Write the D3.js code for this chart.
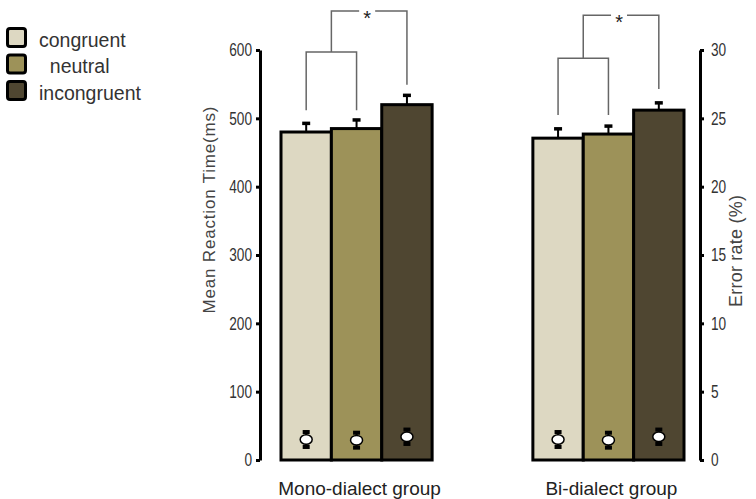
<!DOCTYPE html>
<html><head><meta charset="utf-8">
<script src="https://cdn.jsdelivr.net/npm/d3@7"></script>
<style>
body{margin:0;background:#fff;}
text{font-family:"Liberation Sans",Arial,sans-serif;}
</style></head>
<body><svg id="chart" width="756" height="499"></svg>
<script>
// ---- data ----
const groups = ["Mono-dialect group", "Bi-dialect group"];
const conditions = ["congruent", "neutral", "incongruent"];
const legendLabels = ["congruent", "  neutral", "incongruent"];
const colors = ["#ddd8c2", "#9d9259", "#4f4631"];
const rtMono = [480, 485, 520];
const rtMonoErr = [13, 13, 14];
const rtBi = [471, 477, 512];
const rtBiErr = [14, 12, 11];
const errRateMono = [1.5, 1.45, 1.7];
const errRateMonoErr = [0.62, 0.62, 0.6];
const errRateBi = [1.5, 1.45, 1.7];
const errRateBiErr = [0.62, 0.62, 0.6];
const rtTicks = [0, 100, 200, 300, 400, 500, 600];
const errTicks = [0, 5, 10, 15, 20, 25, 30];
// significance brackets (in ms units)
const bracketLow = [597, 588];
const bracketHigh = [657, 651];
const bracketPairBottom = [512, 505];
const bracketIncBottom = [549, 543];

const svg = d3.select("#chart");
const y = d3.scaleLinear().domain([0, 600]).range([460, 50]);
const y2 = d3.scaleLinear().domain([0, 30]).range([460, 50]);
const xg = d3.scaleBand().domain(groups).range([281, 684]).paddingInner(0.4).paddingOuter(0);
const xc = d3.scaleBand().domain(conditions).range([0, xg.bandwidth()]);

const rt = [rtMono, rtBi], rtE = [rtMonoErr, rtBiErr];
const er = [errRateMono, errRateBi], erE = [errRateMonoErr, errRateBiErr];

const data = [];
groups.forEach((g, gi) => conditions.forEach((c, ci) => data.push({
  g, c, ci, v: rt[gi][ci], e: rtE[gi][ci], ev: er[gi][ci], ee: erE[gi][ci]
})));
const cx = d => xg(d.g) + xc(d.c) + xc.bandwidth() / 2;

// bars
svg.append("g").selectAll("rect").data(data).join("rect")
  .attr("x", d => xg(d.g) + xc(d.c))
  .attr("y", d => y(d.v))
  .attr("width", xc.bandwidth())
  .attr("height", d => y(0) - y(d.v))
  .attr("fill", d => colors[d.ci])
  .attr("stroke", "#000").attr("stroke-width", 3);

// RT error bars
const eb = svg.append("g");
eb.selectAll("line").data(data).join("line")
  .attr("x1", cx).attr("x2", cx)
  .attr("y1", d => y(d.v)).attr("y2", d => y(d.v + d.e))
  .attr("stroke", "#000").attr("stroke-width", 2);
eb.selectAll("rect").data(data).join("rect")
  .attr("x", d => cx(d) - 4).attr("y", d => y(d.v + d.e) - 1.5)
  .attr("width", 8).attr("height", 3.5).attr("fill", "#000");

// error-rate markers
const em = svg.append("g");
em.selectAll("line").data(data).join("line")
  .attr("x1", cx).attr("x2", cx)
  .attr("y1", d => y2(d.ev - d.ee)).attr("y2", d => y2(d.ev + d.ee))
  .attr("stroke", "#000").attr("stroke-width", 2);
em.selectAll("rect.top").data(data).join("rect").attr("class", "top")
  .attr("x", d => cx(d) - 3.5).attr("y", d => y2(d.ev + d.ee) - 1)
  .attr("width", 7).attr("height", 4).attr("fill", "#000");
em.selectAll("rect.bot").data(data).join("rect").attr("class", "bot")
  .attr("x", d => cx(d) - 3.5).attr("y", d => y2(d.ev - d.ee) - 3)
  .attr("width", 7).attr("height", 4).attr("fill", "#000");
em.selectAll("ellipse").data(data).join("ellipse")
  .attr("cx", cx).attr("cy", d => y2(d.ev))
  .attr("rx", 6).attr("ry", 4.8)
  .attr("fill", "#fff").attr("stroke", "#000").attr("stroke-width", 1.5);

// brackets
const br = svg.append("g").attr("stroke", "#666").attr("stroke-width", 1.5).attr("fill", "none");
groups.forEach((g, gi) => {
  const x0 = xg(g) + xc(conditions[0]) + xc.bandwidth() / 2;
  const x1 = xg(g) + xc(conditions[1]) + xc.bandwidth() / 2;
  const x2 = xg(g) + xc(conditions[2]) + xc.bandwidth() / 2;
  const xm = (x0 + x1) / 2;
  const yl = y(bracketLow[gi]), yh = y(bracketHigh[gi]);
  br.append("path").attr("d", `M${x0},${y(bracketPairBottom[gi])}V${yl}H${x1}V${y(bracketPairBottom[gi])}`);
  const sm = (xm + x2) / 2 - 2;
  br.append("path").attr("d", `M${xm},${yl}V${yh}H${sm - 8}M${sm + 8},${yh}H${x2}V${y(bracketIncBottom[gi])}`);
  svg.append("text").attr("x", sm).attr("y", yh + 14).attr("text-anchor", "middle")
    .attr("font-size", 20).attr("fill", "#222").text("*");
  svg.append("text").attr("x", xg(g) + xg.bandwidth() / 2 + 3).attr("y", 495)
    .attr("text-anchor", "middle").attr("font-size", 19).attr("fill", "#222").text(g);
});

// axes
function styleAxis(sel) {
  sel.select(".domain").attr("stroke", "#000").attr("stroke-width", 3);
  sel.selectAll(".tick line").attr("stroke", "#000").attr("stroke-width", 3);
  sel.selectAll(".tick text").attr("font-size", 18).attr("fill", "#333")
    .attr("font-family", "Liberation Sans, Arial, sans-serif")
    .each(function () { const t = d3.select(this); t.attr("textLength", t.text().length * 7.6).attr("lengthAdjust", "spacingAndGlyphs"); });
}
svg.append("g").attr("transform", "translate(260,0)")
  .call(d3.axisLeft(y).tickValues(rtTicks).tickSize(4).tickSizeOuter(0).tickPadding(4))
  .call(styleAxis);
svg.append("g").attr("transform", "translate(700,0)")
  .call(d3.axisRight(y2).tickValues(errTicks).tickSize(4).tickSizeOuter(0).tickPadding(7))
  .call(styleAxis);

// axis titles
svg.append("text").attr("transform", "translate(215,210) rotate(-90)")
  .attr("text-anchor", "middle").attr("font-size", 17).attr("fill", "#444")
  .attr("textLength", 207).text("Mean Reaction Time(ms)");
svg.append("text").attr("transform", "translate(742,251) rotate(-90)")
  .attr("text-anchor", "middle").attr("font-size", 18).attr("fill", "#444")
  .attr("textLength", 112).text("Error rate (%)");

// legend
const lg = svg.append("g");
legendLabels.forEach((l, i) => {
  const yy = 28.5 + i * 26.5;
  lg.append("rect").attr("x", 7.5).attr("y", yy).attr("width", 18).attr("height", 18)
    .attr("rx", 2.5).attr("fill", colors[i]).attr("stroke", "#000").attr("stroke-width", 3);
  lg.append("text").attr("x", 39).attr("y", yy + 18).attr("font-size", 19.5)
    .attr("fill", "#333").style("white-space", "pre").text(l);
});
</script></body></html>
